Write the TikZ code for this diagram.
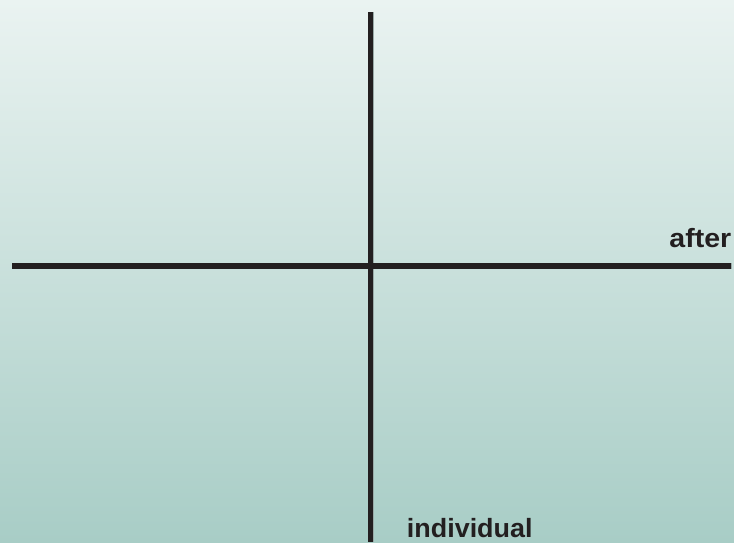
\documentclass[tikz,border=0pt]{standalone}
\usepackage{fontspec}
\setmainfont{Liberation Sans}
\definecolor{bgtop}{HTML}{EAF3F1}
\definecolor{bgbot}{HTML}{A8CDC6}
\definecolor{ink}{HTML}{231F20}
\definecolor{edge}{HTML}{9AABA8}
\begin{document}
\begin{tikzpicture}[x=1pt,y=-1pt,
  axis/.style={line width=5.2pt, draw=ink},
  axisedge/.style={line width=5.2pt, draw=edge},
  lbl/.style={font=\bfseries\fontsize{26.4}{26.4}\selectfont, text=ink, inner sep=0pt}]
\shade[top color=bgtop, bottom color=bgbot] (0,0) rectangle (734,542);
\useasboundingbox (0,0) rectangle (734,542);
\coordinate (vtop) at (370.8,12);
\coordinate (vbot) at (370.8,542);
\coordinate (hleft) at (12,266);
\coordinate (hright) at (731,266);
\draw[axisedge] ([xshift=0.9pt]vtop) -- ([xshift=0.9pt]vbot);
\draw[axisedge] ([xshift=0.9pt]hleft) -- ([xshift=0.9pt]hright);
\draw[axis] (vtop) -- (vbot);
\draw[axis] (hleft) -- (hright);
\node[lbl, xscale=1.08, anchor=base east] (after) at (731.5,247) {after};
\node[lbl, xscale=1.02, anchor=base west] (individual) at (406.7,537.5) {individual};
\end{tikzpicture}
\end{document}
